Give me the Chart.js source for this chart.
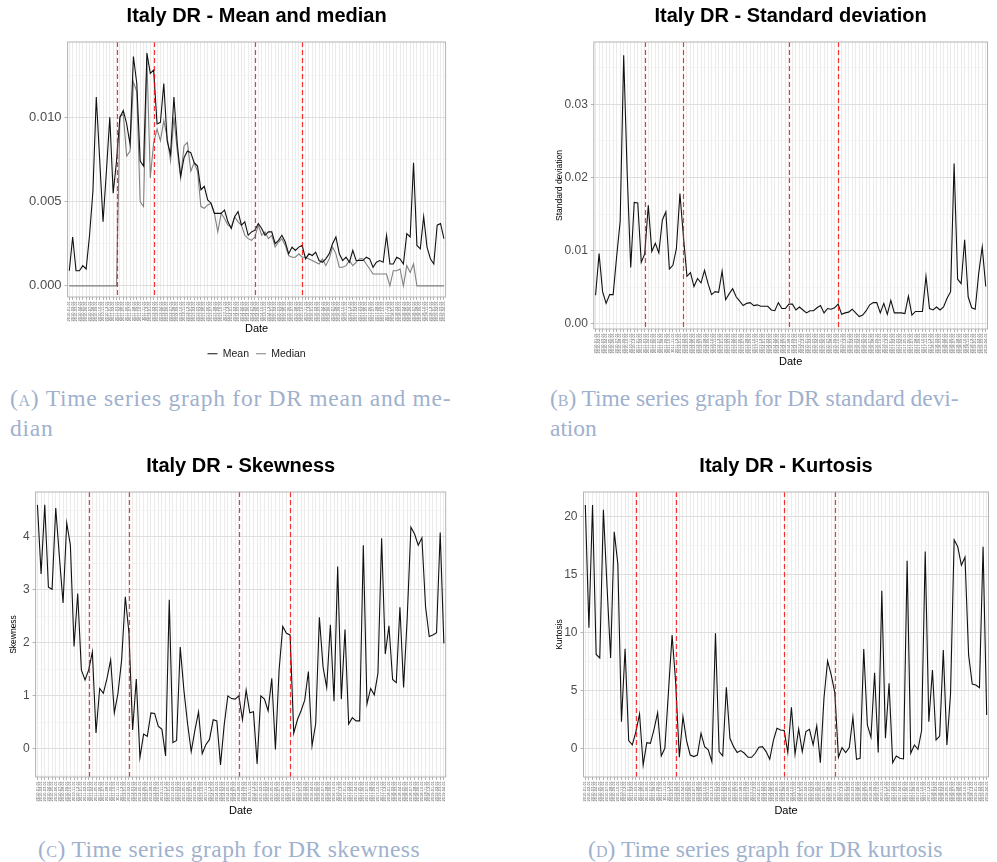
<!DOCTYPE html>
<html>
<head>
<meta charset="utf-8">
<title>Italy DR - moments over time</title>
<script src="https://cdn.jsdelivr.net/npm/chart.js@4.4.1/dist/chart.umd.min.js"></script>
<style>
  html, body { margin: 0; padding: 0; background: #fff; }
  body { width: 997px; height: 862px; position: relative; overflow: hidden; }
  canvas { position: absolute; }
  .cap { position: absolute; font-family: 'Liberation Serif', serif; font-size: 23.5px; line-height: 30px; color: #9fb1cd; white-space: nowrap; }
  .sc { font-variant: small-caps; }
</style>
</head>
<body>
<canvas id="chartMean" width="460" height="369" style="left:0;top:0"></canvas>
<canvas id="chartSd" width="497" height="371" style="left:500px;top:0"></canvas>
<canvas id="chartSkew" width="460" height="370" style="left:0;top:450px"></canvas>
<canvas id="chartKurt" width="497" height="370" style="left:500px;top:450px"></canvas>

<div class="cap" style="left:10px;top:383px;letter-spacing:0.74px"><span class="sc">(a)</span> Time series graph for DR mean and me-<br>dian</div>
<div class="cap" style="left:550px;top:383px;letter-spacing:-0.05px"><span class="sc">(b)</span> Time series graph for DR standard devi-<br>ation</div>
<div class="cap" style="left:38px;top:834px;letter-spacing:0.44px"><span class="sc">(c)</span> Time series graph for DR skewness</div>
<div class="cap" style="left:588px;top:834px;letter-spacing:0.06px"><span class="sc">(d)</span> Time series graph for DR kurtosis</div>

<script>
(function() {
  // observation dates (monthly); the tick labels are printed tiny in the original
  const dates = [];
  for (let i = 0; i < 112; i++) {
    const y = 2010 + Math.floor(i / 12), m = (i % 12) + 1;
    dates.push(y + '-' + String(m).padStart(2, '0') + '-01');
  }

  // positions (category index) of the red dashed break lines
  const breakIdx = [14, 25, 55, 69];

  const meanDR = [
    0.0009, 0.0029, 0.0009, 0.0009, 0.0012, 0.0010, 0.0030, 0.0056, 0.0112, 0.0075,
    0.0038, 0.0068, 0.0100, 0.0055, 0.0074, 0.0100, 0.0104, 0.0096, 0.0084, 0.0136,
    0.0120, 0.0074, 0.0071, 0.0138, 0.0126, 0.0128, 0.0096, 0.0097, 0.0120, 0.0086,
    0.0078, 0.0112, 0.0084, 0.0065, 0.0076, 0.0080, 0.0079, 0.0073, 0.0071, 0.0057,
    0.0059, 0.0051, 0.0049, 0.0043, 0.0043, 0.0043, 0.0045, 0.0038, 0.0034, 0.0041,
    0.0044, 0.0036, 0.0038, 0.0030, 0.0032, 0.0033, 0.0037, 0.0034, 0.0030, 0.0032,
    0.0032, 0.0025, 0.0027, 0.0030, 0.0026, 0.0019, 0.0023, 0.0021, 0.0023, 0.0024,
    0.0016, 0.0019, 0.0018, 0.0020, 0.0015, 0.0014, 0.0016, 0.0019, 0.0025, 0.0029,
    0.0019, 0.0015, 0.0017, 0.0014, 0.0021, 0.0015, 0.0015, 0.0015, 0.0017, 0.0016,
    0.0011, 0.0014, 0.0015, 0.0014, 0.0030, 0.0013, 0.0013, 0.0017, 0.0016, 0.0013,
    0.0031, 0.0029, 0.0073, 0.0024, 0.0022, 0.0041, 0.0023, 0.0016, 0.0013, 0.0036,
    0.0037, 0.0028
  ];
  const medianDR = [
    0, 0, 0, 0, 0, 0, 0, 0, 0, 0,
    0, 0, 0, 0, 0, 0.0100, 0.0102, 0.0077, 0.0080, 0.0121,
    0.0115, 0.0050, 0.0047, 0.0135, 0.0064, 0.0085, 0.0093, 0.0086, 0.0098, 0.0088,
    0.0074, 0.0100, 0.0080, 0.0064, 0.0083, 0.0085, 0.0068, 0.0073, 0.0068, 0.0047,
    0.0046, 0.0048, 0.0049, 0.0043, 0.0032, 0.0043, 0.0040, 0.0036, 0.0035, 0.0041,
    0.0038, 0.0036, 0.0030, 0.0028, 0.0027, 0.0029, 0.0036, 0.0030, 0.0032, 0.0028,
    0.0030, 0.0023, 0.0026, 0.0028, 0.0024, 0.0018, 0.0017, 0.0017, 0.0019, 0.0017,
    0.0017, 0.0016, 0.0015, 0.0014, 0.0013, 0.0016, 0.0012, 0.0016, 0.0023, 0.0019,
    0.0011, 0.0011, 0.0012, 0.0015, 0.0012, 0.0014, 0.0016, 0.0016, 0.0013, 0.0010,
    0.0007, 0.0007, 0.0007, 0.0007, 0.0007, 0, 0.0009, 0.0009, 0.0010, 0,
    0.0012, 0.0008, 0.0013, 0, 0, 0, 0, 0, 0, 0,
    0, 0
  ];
  const sdDR = [
    0.0039, 0.0096, 0.0044, 0.0028, 0.0040, 0.0040, 0.0092, 0.0140, 0.0367, 0.0205,
    0.0077, 0.0166, 0.0165, 0.0084, 0.0096, 0.0162, 0.0099, 0.0110, 0.0097, 0.0142,
    0.0153, 0.0075, 0.0080, 0.0103, 0.0178, 0.0119, 0.0065, 0.0070, 0.0051, 0.0062,
    0.0056, 0.0073, 0.0055, 0.0040, 0.0044, 0.0043, 0.0072, 0.0033, 0.0041, 0.0048,
    0.0037, 0.0031, 0.0025, 0.0028, 0.0029, 0.0025, 0.0026, 0.0024, 0.0024, 0.0024,
    0.0019, 0.0018, 0.0029, 0.0021, 0.0021, 0.0027, 0.0027, 0.0019, 0.0023, 0.0019,
    0.0015, 0.0018, 0.0018, 0.0022, 0.0025, 0.0015, 0.0021, 0.0020, 0.0022, 0.0027,
    0.0013, 0.0015, 0.0016, 0.0020, 0.0015, 0.0010, 0.0012, 0.0018, 0.0026, 0.0029,
    0.0029, 0.0015, 0.0028, 0.0013, 0.0032, 0.0015, 0.0015, 0.0015, 0.0014, 0.0038,
    0.0012, 0.0017, 0.0017, 0.0017, 0.0065, 0.0021, 0.0019, 0.0023, 0.0019, 0.0023,
    0.0035, 0.0044, 0.0219, 0.0061, 0.0055, 0.0115, 0.0037, 0.0022, 0.0020, 0.0069,
    0.0105, 0.0051
  ];
  const skewDR = [
    4.60, 3.30, 4.60, 3.05, 3.01, 4.54, 3.62, 2.75, 4.26, 3.84,
    1.93, 2.93, 1.49, 1.30, 1.49, 1.83, 0.30, 1.14, 1.05, 1.33,
    1.68, 0.68, 1.05, 1.68, 2.87, 2.18, 0.36, 1.32, -0.16, 0.28,
    0.24, 0.68, 0.67, 0.43, 0.37, -0.13, 2.81, 0.12, 0.16, 1.92,
    1.11, 0.48, -0.05, 0.35, 0.70, -0.09, 0.08, 0.18, 0.55, 0.53,
    -0.30, 0.45, 1.00, 0.95, 0.94, 1.00, 0.55, 1.11, 0.68, 0.70,
    -0.28, 1.00, 0.94, 0.72, 1.33, -0.01, 1.49, 2.31, 2.18, 2.15,
    0.30, 0.55, 0.72, 0.92, 1.46, 0.06, 0.48, 2.48, 1.55, 1.16,
    2.34, 0.90, 3.44, 0.94, 2.25, 0.47, 0.59, 0.53, 0.53, 3.84,
    0.85, 1.14, 1.02, 1.43, 3.97, 1.79, 2.32, 1.31, 1.25, 2.67,
    1.16, 2.49, 4.18, 4.05, 3.84, 3.98, 2.68, 2.12, 2.15, 2.19,
    4.08, 1.99
  ];
  const kurtDR = [
    21.0, 10.4, 21.0, 8.1, 7.8, 20.6, 14.0, 7.8, 18.7, 15.9,
    2.3, 8.6, 0.66, 0.29, 1.44, 2.96, -1.44, 0.49, 0.43, 1.64,
    3.08, -0.66, 0.0, 4.89, 9.78, 5.61, -0.78, 2.73, 0.66, -0.58,
    -0.72, -0.58, 1.29, 0.14, -0.14, -1.15, 9.93, -0.29, -0.66, 5.27,
    0.86, 0.14, -0.37, -0.20, -0.43, -0.78, -0.78, -0.43, 0.09, 0.14,
    -0.29, -0.95, 0.66, 1.73, 1.58, 1.53, -0.37, 3.54, -0.52, 1.67,
    -0.29, 1.44, 1.64, 0.29, 1.93, -1.24, 4.32, 7.54, 6.33, 4.81,
    -0.78, 0.06, -0.37, 0.06, 2.68, -0.95, -0.86, 8.58, 2.01, 0.95,
    6.53, -0.37, 13.6, 0.86, 5.61, -1.24, -0.66, -0.86, -0.92, 16.2,
    -0.43, 0.29, -0.09, 1.53, 17.0, 2.30, 6.76, 0.72, 1.06, 8.49,
    0.29, 4.69, 18.0, 17.4, 15.8, 16.5, 8.06, 5.55, 5.47, 5.24,
    17.4, 2.88
  ];

  Chart.defaults.font.family = "'Liberation Sans', Arial, sans-serif";
  Chart.defaults.animation = false;
  Chart.defaults.responsive = false;
  Chart.defaults.devicePixelRatio = 1;

  // red dashed break lines + grey panel border (ggplot theme_light look)
  const panelDecor = {
    id: 'panelDecor',
    afterDatasetsDraw(chart) {
      const { ctx, chartArea: a, scales: { x } } = chart;
      ctx.save();
      ctx.strokeStyle = 'rgba(255,0,0,0.8)';
      ctx.lineWidth = 1.2;
      ctx.setLineDash([5, 3]);
      breakIdx.forEach(i => {
        const px = Math.round(x.getPixelForValue(i)) + 0.5;
        ctx.beginPath(); ctx.moveTo(px, a.top); ctx.lineTo(px, a.bottom); ctx.stroke();
      });
      ctx.setLineDash([]);
      ctx.strokeStyle = '#b3b3b3';
      ctx.lineWidth = 1;
      ctx.strokeRect(a.left, a.top, a.right - a.left, a.bottom - a.top);
      ctx.restore();
    }
  };

  function isMajor(v, major) {
    const r = v / major;
    return Math.abs(r - Math.round(r)) < 1e-6;
  }

  function makePanel(id, o) {
    const datasets = o.series.map(s => ({
      label: s.label, data: s.data, borderColor: s.color, backgroundColor: s.color,
      borderWidth: 1.1, pointRadius: 0, tension: 0, fill: false
    }));
    return new Chart(document.getElementById(id), {
      type: 'line',
      data: { labels: dates, datasets },
      options: {
        layout: { padding: o.pad },
        plugins: {
          title: {
            display: true, text: o.title, fullSize: false, color: '#000',
            font: { size: 20, weight: 'bold' }, padding: { top: 4, bottom: 14 }
          },
          legend: o.legend ? {
            display: true, position: 'bottom', fullSize: false,
            labels: { usePointStyle: true, pointStyle: 'line', pointStyleWidth: 10, padding: 7, color: '#1a1a1a', font: { size: 10.5 } }
          } : { display: false },
          tooltip: { enabled: false }
        },
        scales: {
          x: {
            type: 'category', offset: true,
            border: { display: false },
            grid: { color: '#ebebeb', lineWidth: 1, tickLength: 3, tickColor: '#b3b3b3', tickWidth: 1 },
            ticks: { autoSkip: false, minRotation: 90, maxRotation: 90, padding: 1, color: '#555', font: { size: 4 } },
            title: { display: true, text: 'Date', color: '#000', font: { size: 11 }, padding: { top: 0, bottom: o.dateGap } },
            afterFit: s => { s.height = o.xH; }
          },
          y: {
            min: o.yMin, max: o.yMax,
            border: { display: false },
            grid: {
              color: c => isMajor(c.tick.value, o.major) ? '#dedede' : '#f0f0f0',
              lineWidth: c => isMajor(c.tick.value, o.major) ? 1 : 0.7,
              tickLength: 3,
              tickColor: c => isMajor(c.tick.value, o.major) ? '#b3b3b3' : 'rgba(0,0,0,0)'
            },
            ticks: {
              stepSize: o.minor, includeBounds: false, maxTicksLimit: 30, padding: 3,
              color: '#4d4d4d', font: { size: o.tickSize || 12 },
              callback: v => isMajor(v, o.major) ? o.fmt(v) : ''
            },
            title: o.yTitle
              ? { display: true, text: o.yTitle, color: '#000', font: { size: 8.5 }, padding: { top: 0, bottom: 0 } }
              : { display: false },
            afterFit: s => { s.width = o.yW; }
          }
        }
      },
      plugins: [panelDecor]
    });
  }

  makePanel('chartMean', {
    title: 'Italy DR - Mean and median',
    series: [
      { label: 'Mean', data: meanDR, color: '#111111' },
      { label: 'Median', data: medianDR, color: '#808080' }
    ],
    legend: true,
    pad: { left: 0, right: 14.4, top: 0, bottom: 0 },
    yW: 67.6, xH: 44.5, dateGap: 5.9, tickSize: 13,
    yMin: -0.00066, yMax: 0.01446, minor: 0.0025, major: 0.005,
    fmt: v => v.toFixed(3)
  });

  makePanel('chartSd', {
    title: 'Italy DR - Standard deviation',
    series: [{ label: 'Standard deviation', data: sdDR, color: '#111111' }],
    pad: { left: 55, right: 9.5, top: 0, bottom: 0 },
    yW: 38.8, xH: 42, dateGap: 2.4, yTitle: 'Standard deviation',
    yMin: -0.0007, yMax: 0.0385, minor: 0.005, major: 0.01,
    fmt: v => v.toFixed(2)
  });

  makePanel('chartSkew', {
    title: 'Italy DR - Skewness',
    series: [{ label: 'Skewness', data: skewDR, color: '#111111' }],
    pad: { left: 9, right: 14.3, top: 0, bottom: 0 },
    yW: 26.6, xH: 43, dateGap: 2.4, yTitle: 'Skewness',
    yMin: -0.528, yMax: 4.843, minor: 0.5, major: 1,
    fmt: v => String(v)
  });

  makePanel('chartKurt', {
    title: 'Italy DR - Kurtosis',
    series: [{ label: 'Kurtosis', data: kurtDR, color: '#111111' }],
    pad: { left: 55, right: 8.5, top: 0, bottom: 0 },
    yW: 28.5, xH: 43, dateGap: 2.4, yTitle: 'Kurtosis',
    yMin: -2.48, yMax: 22.13, minor: 2.5, major: 5,
    fmt: v => String(v)
  });
})();
</script>
</body>
</html>
